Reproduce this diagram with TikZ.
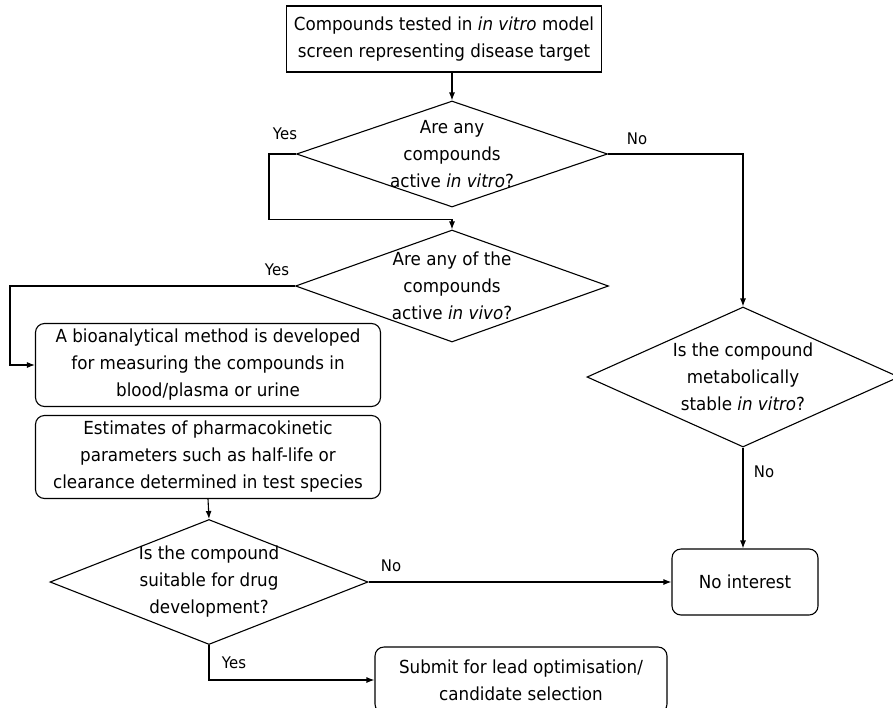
\documentclass[tikz,border=0pt]{standalone}
\usepackage{fontspec}
\setmainfont{DejaVu Sans}[FakeStretch=0.93]
\usepackage{tikz}
\usetikzlibrary{arrows.meta, shapes.geometric}

\tikzset{
  stepbox/.style={draw, rectangle, align=center, line width=1.1pt},
  roundbox/.style={stepbox, rounded corners=9pt},
  decision/.style={draw, diamond, line width=1.1pt, inner sep=0pt},
  answer/.style={font=\fontsize{16}{18}\selectfont},
  flow/.style={-{Latex[length=8pt,width=6pt]}, line width=1.1pt}
}

\begin{document}
\begin{tikzpicture}[x=1pt, y=-1pt, font=\fontsize{18}{27}\selectfont]

  \useasboundingbox (0,0) rectangle (893,707);

  \node[stepbox, minimum width=315pt, minimum height=66pt] (screen) at (444,39)
  {Compounds tested in \emph{in vitro} model\\screen representing disease target};

  \node[decision, minimum width=311pt, minimum height=106pt,
        label={[align=center]center:Are any\\compounds\\active \emph{in vitro}?}] (vitro) at (452,154) {};

  \node[decision, minimum width=313pt, minimum height=112pt,
        label={[align=center]center:Are any of the\\compounds\\active \emph{in vivo}?}] (vivo) at (452,286) {};

  \node[decision, minimum width=312pt, minimum height=140pt,
        label={[align=center]center:Is the compound\\metabolically\\stable \emph{in vitro}?}] (stable) at (743,377) {};

  \node[roundbox, minimum width=345pt, minimum height=83pt] (method) at (208,365)
  {A bioanalytical method is developed\\for measuring the compounds in\\blood/plasma or urine};

  \node[roundbox, minimum width=345pt, minimum height=83pt] (pk) at (208,457)
  {Estimates of pharmacokinetic\\parameters such as half-life or\\clearance determined in test species};

  \node[decision, minimum width=318pt, minimum height=125pt,
        label={[align=center]center:Is the compound\\suitable for drug\\development?}] (suitable) at (209,582) {};

  \node[roundbox, minimum width=146pt, minimum height=66pt] (nointerest) at (745,582)
  {No interest};

  \node[roundbox, minimum width=292pt, minimum height=66pt] (lead) at (521,680)
  {Submit for lead optimisation/\\candidate selection};

  \draw[flow] (screen.south -| vitro.north) -- (vitro.north);
  \draw[flow] (vitro.west) -- ++(-27,0) |- ([yshift=-12pt]vitro.south) -- (vivo.north);
  \draw[flow] (vitro.east) -| (stable.north);
  \draw[flow] (vivo.west) -- (10,286) |- (method.west);
  \draw[flow] (pk.south) -- (suitable.north);
  \draw[flow] (stable.south) -- (stable.south |- nointerest.north);
  \draw[flow] (suitable.east) -- (nointerest.west);
  \draw[flow] (suitable.south) |- (lead.west);

  \node[answer] (yes1) at (285,134) {Yes};
  \node[answer] (no1) at (637,139) {No};
  \node[answer] (yes2) at (277,270) {Yes};
  \node[answer] (no2) at (764,472) {No};
  \node[answer] (no3) at (391,566) {No};
  \node[answer] (yes3) at (234,663) {Yes};

\end{tikzpicture}
\end{document}
